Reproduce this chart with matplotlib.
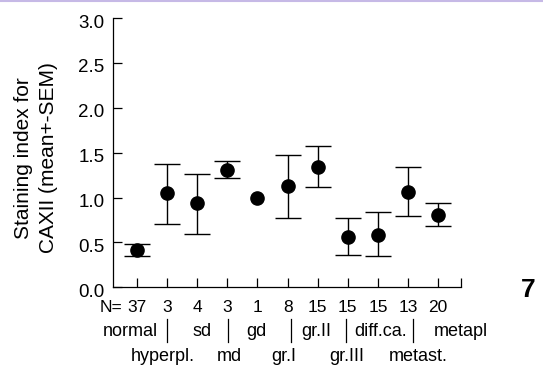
import numpy as np
import matplotlib
matplotlib.use('Agg')
import matplotlib.pyplot as plt
from matplotlib.lines import Line2D
import matplotlib.transforms as mtransforms

plt.rcParams['font.family'] = ['Liberation Sans', 'DejaVu Sans']

# groups in plot order, N per group, mean and mean+-SEM
groups = ['normal', 'hyperpl.', 'sd', 'md', 'gd', 'gr.I', 'gr.II',
          'gr.III', 'diff.ca.', 'metast.', 'metapl']
n_cases = [37, 3, 4, 3, 1, 8, 15, 15, 15, 13, 20]
mean = [0.413, 1.054, 0.943, 1.304, 1.0, 1.13, 1.337, 0.564, 0.58, 1.065, 0.807]
upper = [0.477, 1.37, 1.261, 1.402, 1.0, 1.471, 1.576, 0.773, 0.841, 1.337, 0.943]
lower = [0.344, 0.705, 0.591, 1.217, 1.0, 0.773, 1.12, 0.364, 0.344, 0.795, 0.682]
yticks = [0.0, 0.5, 1.0, 1.5, 2.0, 2.5, 3.0]

# small horizontal nudges (pixels) of the group names, as in the original layout
name_shift = [-7, -4, 5, 2, -1, -4, -1, -1, 3, 10, 23]
bar_shift = [0, 0, 0, 0.5, 0, 3, 0, -2, 0, 5, 0]

fig = plt.figure(figsize=(5.43, 3.67), dpi=100)
ax = fig.add_axes([112.7 / 543, (367 - 287.3) / 367, 348 / 543, 269.3 / 367])

x = np.arange(1, len(groups) + 1)
mean = np.array(mean)
upper = np.array(upper)
lower = np.array(lower)
has_err = np.array(n_cases) > 1

ax.errorbar(x[has_err], mean[has_err],
            yerr=[mean[has_err] - lower[has_err], upper[has_err] - mean[has_err]],
            fmt='none', ecolor='black', elinewidth=1.0, capsize=9.5, capthick=1.0)
ax.plot(x, mean, 'o', color='black', markersize=9.5, zorder=3)

ax.set_xlim(0.19, 11.75)
ax.set_ylim(0, 3.0)
ax.set_yticks(yticks)
ax.set_yticklabels([f'{v:.1f}' for v in yticks], fontsize=13.5)
ax.set_xticks(x)
ax.set_xticklabels([])
ax.set_xticks([11.75], minor=True)

for s in ['top', 'right']:
    ax.spines[s].set_visible(False)
for s in ['left', 'bottom']:
    ax.spines[s].set_linewidth(0.9)
ax.tick_params(axis='both', which='both', direction='in', length=6.8, width=0.9)
ax.tick_params(axis='y', pad=6)
# labels sit a little low against their ticks in the original
for lab in ax.get_yticklabels():
    lab.set_transform(lab.get_transform() +
                      mtransforms.ScaledTranslation(0, -3 / 100, fig.dpi_scale_trans))

ax.set_ylabel('Staining index for\nCAXII (mean+-SEM)', fontsize=15,
              linespacing=1.4)
ax.yaxis.set_label_coords(-0.157, 0.48)

trans = mtransforms.blended_transform_factory(ax.transData, ax.transAxes)
px = 1 / 30.1  # one pixel in x data units

# N row under the axis
ax.text(0.027, -0.074, 'N=', transform=ax.transAxes, ha='right', va='center',
        fontsize=12.5)
for xi, n in zip(x, n_cases):
    ax.text(xi, -0.074, str(n), transform=trans, ha='center', va='center',
            fontsize=12.5)

# group names on two staggered rows, with leader bars for the lower row
for i, (xi, g) in enumerate(zip(x, groups)):
    xs = xi + name_shift[i] * px
    if i % 2 == 0:
        ax.text(xs, -0.165, g, transform=trans, ha='center', va='center',
                fontsize=13)
    else:
        ax.text(xs, -0.258, g, transform=trans, ha='center', va='center',
                fontsize=13)
        xb = xi + bar_shift[i] * px
        ax.add_line(Line2D([xb, xb], [-0.119, -0.202], transform=trans,
                           color='black', lw=0.9, clip_on=False))

fig.text(528 / 543, 1 - 290 / 367, '7', fontsize=19, fontweight='bold',
         ha='center', va='center')

# faint coloured strip along the top edge of the scan
fig.add_artist(Line2D([0, 1], [0.997, 0.997], transform=fig.transFigure,
                      color='#c6b9e6', lw=1.5))

fig.savefig('out.png', dpi=100)
